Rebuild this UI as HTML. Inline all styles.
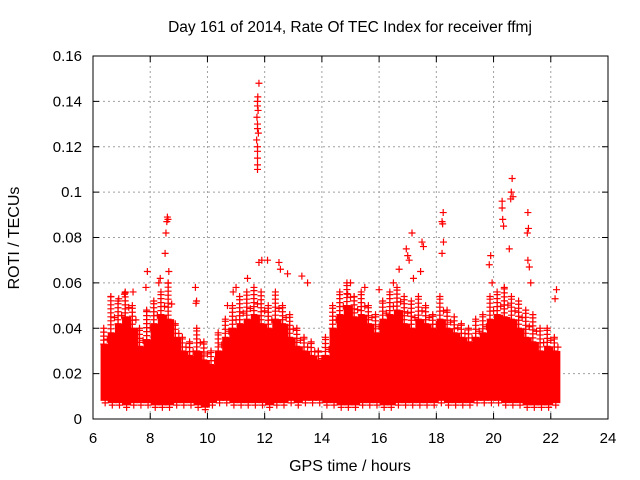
<!DOCTYPE html>
<html><head><meta charset="utf-8"><style>
body{margin:0;background:#fff}
svg{display:block;font-family:"Liberation Sans",sans-serif}
</style></head><body>
<svg id="chart" width="640" height="480">
<text x="350" y="32" font-size="15.5" text-anchor="middle">Day 161 of 2014, Rate Of TEC Index for receiver ffmj</text>
<text x="350" y="471" font-size="16" text-anchor="middle">GPS time / hours</text>
<text x="19" y="238" font-size="16" text-anchor="middle" transform="rotate(-90 19 238)">ROTI / TECUs</text>
<g id="grid"></g><g id="band"></g><g id="marks"></g><g id="axes"></g>
</svg>
<script>
const xTicks=[6,8,10,12,14,16,18,20,22,24];
const yTicks=[0,0.02,0.04,0.06,0.08,0.1,0.12,0.14,0.16];
const yTickLabels=["0","0.02","0.04","0.06","0.08","0.1","0.12","0.14","0.16"];
const binStart=[6.3,6.55,6.8,7.05,7.3,7.55,7.8,8.05,8.3,8.55,8.8,9.05,9.3,9.55,9.8,10.05,10.3,10.55,10.8,11.05,11.3,11.55,11.8,12.05,12.3,12.55,12.8,13.05,13.3,13.55,13.8,14.05,14.3,14.55,14.8,15.05,15.3,15.55,15.8,16.05,16.3,16.55,16.8,17.05,17.3,17.55,17.8,18.05,18.3,18.55,18.8,19.05,19.3,19.55,19.8,20.05,20.3,20.55,20.8,21.05,21.3,21.55,21.8,22.05];
const bandHi=[0.033,0.038,0.042,0.045,0.04,0.032,0.035,0.042,0.046,0.044,0.036,0.03,0.028,0.03,0.026,0.024,0.03,0.036,0.04,0.042,0.044,0.046,0.042,0.04,0.044,0.042,0.036,0.032,0.03,0.028,0.026,0.028,0.04,0.046,0.05,0.045,0.046,0.042,0.038,0.044,0.046,0.048,0.042,0.04,0.044,0.042,0.04,0.044,0.04,0.038,0.036,0.034,0.036,0.038,0.044,0.046,0.045,0.044,0.04,0.036,0.034,0.03,0.032,0.03];
const bandPeak=[0.04,0.054,0.052,0.056,0.05,0.04,0.048,0.052,0.056,0.06,0.042,0.036,0.034,0.04,0.034,0.03,0.038,0.044,0.05,0.054,0.056,0.058,0.056,0.05,0.056,0.05,0.046,0.04,0.036,0.034,0.03,0.036,0.05,0.056,0.06,0.054,0.056,0.05,0.046,0.052,0.056,0.058,0.054,0.052,0.054,0.05,0.046,0.054,0.048,0.045,0.042,0.04,0.044,0.046,0.054,0.056,0.058,0.054,0.052,0.048,0.046,0.04,0.04,0.036];
const bandLo=[0.008,0.007,0.007,0.006,0.007,0.007,0.007,0.006,0.006,0.006,0.007,0.007,0.007,0.006,0.005,0.007,0.008,0.008,0.007,0.007,0.007,0.007,0.007,0.006,0.007,0.007,0.008,0.007,0.008,0.008,0.008,0.007,0.007,0.006,0.006,0.006,0.007,0.007,0.007,0.006,0.006,0.007,0.007,0.007,0.007,0.007,0.007,0.008,0.007,0.007,0.007,0.007,0.008,0.008,0.008,0.008,0.007,0.007,0.007,0.006,0.006,0.006,0.006,0.007];
const outT=[11.75,11.75,11.75,11.75,11.75,11.72,11.78,11.75,11.75,11.73,11.77,11.75,11.75,11.76,11.8,8.6,8.62,8.58,8.55,8.52,8.65,8.35,8.3,7.1,6.9,7.9,7.85,9.6,9.62,9.58,11.0,11.4,11.8,11.9,12.1,12.5,12.55,12.8,13.3,13.5,17.15,17.0,17.05,16.95,17.5,17.55,17.45,17.2,18.24,18.2,18.22,18.25,18.2,19.9,19.85,19.95,20.3,20.3,20.32,20.35,20.65,20.62,20.68,20.6,20.55,21.2,21.22,21.18,21.2,21.25,21.3,22.2,22.15,15.0,15.5,16.0,16.5,16.7,7.4,14.9,10.7,10.9];
const outV=[0.11,0.112,0.115,0.118,0.12,0.123,0.126,0.128,0.13,0.133,0.136,0.138,0.14,0.142,0.148,0.089,0.088,0.087,0.082,0.073,0.065,0.062,0.06,0.055,0.053,0.065,0.058,0.051,0.052,0.058,0.058,0.062,0.069,0.07,0.07,0.069,0.066,0.064,0.063,0.06,0.082,0.072,0.07,0.075,0.078,0.076,0.065,0.062,0.091,0.087,0.086,0.078,0.073,0.072,0.068,0.06,0.096,0.093,0.088,0.085,0.106,0.1,0.098,0.097,0.075,0.091,0.084,0.082,0.07,0.067,0.06,0.057,0.053,0.06,0.058,0.057,0.06,0.066,0.056,0.055,0.05,0.056];
const L=93,R=608,T=56,B=419;
const sx=v=>L+(v-6)/18*(R-L), sy=v=>B-v/0.16*(B-T);
const NS="http://www.w3.org/2000/svg";
function mk(tag,attrs,parent){const e=document.createElementNS(NS,tag);for(const k in attrs)e.setAttribute(k,attrs[k]);document.getElementById(parent).appendChild(e);return e;}
xTicks.forEach((t,i)=>{const x=sx(t);
 if(i>0&&i<xTicks.length-1){const g=mk('line',{x1:x,y1:T,x2:x,y2:B,stroke:'#a0a0a0','stroke-dasharray':'2,3'},'grid');
 
 }
 const tl=mk('text',{x:x,y:B+24,'font-size':15,'text-anchor':'middle'},'axes');tl.textContent=t;
 
 
 mk('line',{x1:x,y1:B,x2:x,y2:B-6,stroke:'#000'},'axes');mk('line',{x1:x,y1:T,x2:x,y2:T+6,stroke:'#000'},'axes');});
yTicks.forEach((t,i)=>{const y=sy(t);
 if(i>0&&i<yTicks.length-1){const g=mk('line',{x1:L,y1:y,x2:R,y2:y,stroke:'#a0a0a0','stroke-dasharray':'2,3'},'grid');
 
 }
 const tl=mk('text',{x:L-11,y:y+5,'font-size':15,'text-anchor':'end'},'axes');tl.textContent=yTickLabels[i];
 
 
 mk('line',{x1:L,y1:y,x2:L+6,y2:y,stroke:'#000'},'axes');mk('line',{x1:R,y1:y,x2:R-6,y2:y,stroke:'#000'},'axes');});
const fr=mk('rect',{x:L,y:T,width:R-L,height:B-T,fill:'none',stroke:'#000'},'axes');


const bw=0.25/18*(R-L);
function plus(x,y,c,name){const p=mk('path',{d:`M${x-3.5},${y}h7M${x},${y-3.5}v7`,stroke:c,'stroke-width':1.2},'marks');
 
 }
binStart.forEach((t,i)=>{const x=sx(t),y1=sy(bandHi[i]),y2=sy(bandLo[i]),yp=sy(bandPeak[i]);
 const r=mk('rect',{x:x-1,y:y1,width:bw+2,height:y2-y1,fill:'#ff0000'},'band');
 
 
 for(let y=y1;y>yp;y-=4) plus(x+bw*0.3,y,'#ff0000','roti-point');
 plus(x+bw*0.3,yp,'#ff0000','roti-point');
 plus(x+bw*0.8,(y1+yp)/2+3,'#ff0000','roti-point');
 plus(x+bw/2,y2+2,'#ff0000','roti-point');
});
outT.forEach((t,i)=>plus(sx(t),sy(outV[i]),'#ff0000','roti-outlier-point'));
</script>
</body></html>
